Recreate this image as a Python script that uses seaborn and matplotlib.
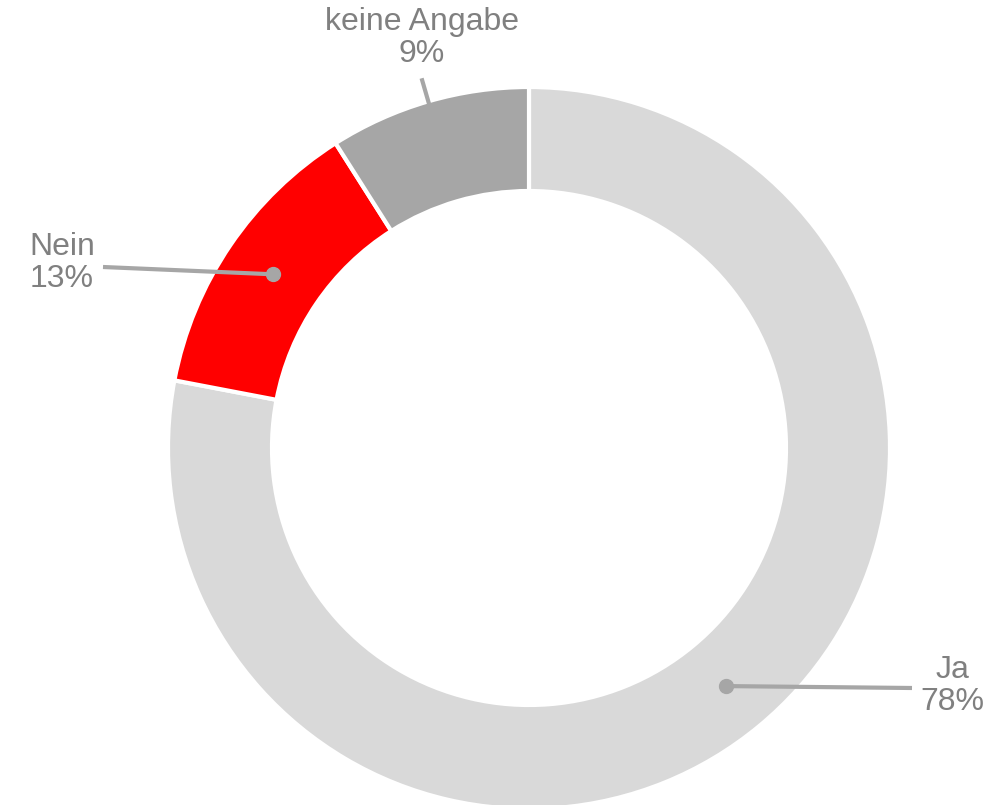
import numpy as np
import matplotlib
matplotlib.use("Agg")
import matplotlib.pyplot as plt
import seaborn as sns

# Data
categories = ["Ja", "Nein", "keine Angabe"]
values = [78, 13, 9]
colors = ["#d9d9d9", "#ff0000", "#a6a6a6"]

sns.set_theme(style="white")
plt.rcParams["font.family"] = ["Liberation Sans", "DejaVu Sans"]

W, H = 1008, 805
fig = plt.figure(figsize=(W / 100, H / 100), dpi=100)
ax = fig.add_axes([0, 0, 1, 1])

cx, cy = 529, H - 448
r_out, r_in = 361, 257

wedges, _ = ax.pie(values, colors=colors, startangle=90, counterclock=False,
                   center=(cx, cy), radius=r_out,
                   wedgeprops=dict(width=r_out - r_in, edgecolor="white", linewidth=3))
ax.set_xlim(0, W)
ax.set_ylim(0, H)
ax.set_aspect("auto")
ax.axis("off")

# label layout: (line end x, line end y, text x, text y) in pixel coords (y from top)
layout = {
    "Ja": (912, 688, 952, 686),
    "Nein": (103, 267, 62, 263),
    "keine Angabe": None,
}

total = sum(values)
cum = 0
r_mid = (r_out + r_in) / 2
for cat, v in zip(categories, values):
    mid = cum + v / 2
    cum += v
    ang = np.deg2rad(90 - 360 * mid / total)
    dx, dy = cx + r_mid * np.cos(ang), cy + r_mid * np.sin(ang)
    label = f"{cat}\n{v}%"
    if layout[cat] is not None:
        lx, ly, tx, ty = layout[cat]
        ax.plot([dx, lx], [dy, H - ly], color="#a6a6a6", lw=3, solid_capstyle="butt", zorder=3)
        ax.plot([dx], [dy], "o", color="#a6a6a6", ms=10, zorder=4)
        ax.text(tx, H - ty, label, ha="center", va="center", fontsize=23,
                color="#808080", linespacing=1.05, multialignment="center")
    else:
        ex, ey = cx + 385 * np.cos(ang), cy + 385 * np.sin(ang)
        ax.plot([dx, ex], [dy, ey], color="#a6a6a6", lw=3, solid_capstyle="butt", zorder=3)
        ax.text(422, H - 38, label, ha="center", va="center", fontsize=23,
                color="#808080", linespacing=1.05, multialignment="center")

fig.savefig("out.png", dpi=100)
